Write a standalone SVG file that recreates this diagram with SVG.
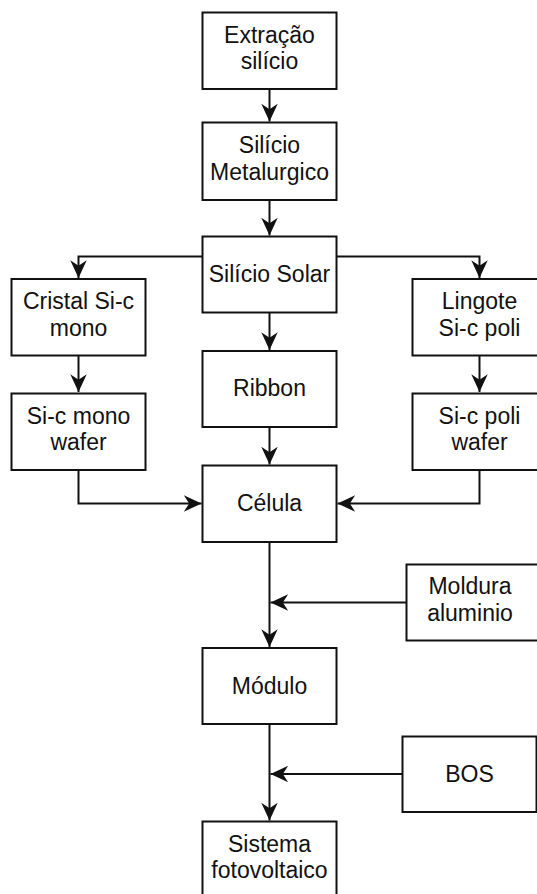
<svg xmlns="http://www.w3.org/2000/svg" width="537" height="894" viewBox="0 0 537 894">
<style>
.box{fill:#fff;stroke:#111;stroke-width:2}
.lbl{font-family:"Liberation Sans",Arial,sans-serif;font-size:23px;fill:#111;text-anchor:middle}
.edge{fill:none;stroke:#111;stroke-width:2}
</style>
<defs>
<marker id="arr" markerUnits="userSpaceOnUse" markerWidth="20" markerHeight="20" viewBox="-16 -8 17 16" refX="0" refY="0" orient="auto">
<path d="M0,0 L-15,-7 L-10.5,0 L-15,7 Z" fill="#111"/>
</marker>
</defs>
<rect width="537" height="894" fill="#fff"/>
<g id="connectors">
<path class="edge" d="M269.5,89 V121.5" marker-end="url(#arr)"/>
<path class="edge" d="M269.5,200 V235.5" marker-end="url(#arr)"/>
<path class="edge" d="M202.5,256.5 H78.5 V278" marker-end="url(#arr)"/>
<path class="edge" d="M336.5,256.5 H479.5 V278" marker-end="url(#arr)"/>
<path class="edge" d="M269.5,312.5 V350" marker-end="url(#arr)"/>
<path class="edge" d="M269.5,427 V464.5" marker-end="url(#arr)"/>
<path class="edge" d="M78.5,355.5 V392" marker-end="url(#arr)"/>
<path class="edge" d="M479.5,355.5 V392" marker-end="url(#arr)"/>
<path class="edge" d="M78.5,470 V503.5 H201.5" marker-end="url(#arr)"/>
<path class="edge" d="M479.5,470 V503.5 H337.5" marker-end="url(#arr)"/>
<path class="edge" d="M269.5,542 V647" marker-end="url(#arr)"/>
<path class="edge" d="M406.5,602.5 H270.5" marker-end="url(#arr)"/>
<path class="edge" d="M269.5,724 V820.5" marker-end="url(#arr)"/>
<path class="edge" d="M402.5,774 H270.5" marker-end="url(#arr)"/>
</g>
<g id="extracao"><rect class="box" x="202.5" y="12.5" width="134" height="76.5"/><text class="lbl" x="269.5" y="42.5">Extração</text><text class="lbl" x="269.5" y="69.2">silício</text></g>
<g id="metalurgico"><rect class="box" x="202.5" y="122.5" width="134" height="77.5"/><text class="lbl" x="269.5" y="153">Silício</text><text class="lbl" x="269.5" y="179.7">Metalurgico</text></g>
<g id="solar"><rect class="box" x="202.5" y="236.5" width="134" height="76"/><text class="lbl" x="269.5" y="282.3">Silício Solar</text></g>
<g id="cristal"><rect class="box" x="11.5" y="279" width="134" height="76.5"/><text class="lbl" x="78.5" y="309">Cristal Si-c</text><text class="lbl" x="78.5" y="335.7">mono</text></g>
<g id="lingote"><rect class="box" x="412.5" y="279" width="134" height="76.5"/><text class="lbl" x="479.5" y="309">Lingote</text><text class="lbl" x="479.5" y="335.7">Si-c poli</text></g>
<g id="ribbon"><rect class="box" x="202.5" y="351" width="134" height="76"/><text class="lbl" x="269.5" y="395.7">Ribbon</text></g>
<g id="monowafer"><rect class="box" x="11.5" y="393.5" width="134" height="76.5"/><text class="lbl" x="78.5" y="423.5">Si-c mono</text><text class="lbl" x="78.5" y="450.2">wafer</text></g>
<g id="poliwafer"><rect class="box" x="412.5" y="393.5" width="134" height="76.5"/><text class="lbl" x="479.5" y="423.5">Si-c poli</text><text class="lbl" x="479.5" y="450.2">wafer</text></g>
<g id="celula"><rect class="box" x="202.5" y="465.5" width="134" height="76.5"/><text class="lbl" x="269.5" y="511.3">Célula</text></g>
<g id="moldura"><rect class="box" x="406.5" y="564.5" width="134" height="76"/><text class="lbl" x="470" y="594.3">Moldura</text><text class="lbl" x="470" y="621">aluminio</text></g>
<g id="modulo"><rect class="box" x="202.5" y="648" width="134" height="76"/><text class="lbl" x="269.5" y="693.5">Módulo</text></g>
<g id="bos"><rect class="box" x="402.5" y="736.5" width="134" height="75.5"/><text class="lbl" x="469.5" y="781.5">BOS</text></g>
<g id="sistema"><rect class="box" x="202.5" y="821.5" width="134" height="76.5"/><text class="lbl" x="269.5" y="851.7">Sistema</text><text class="lbl" x="269.5" y="878.4">fotovoltaico</text></g>
</svg>
